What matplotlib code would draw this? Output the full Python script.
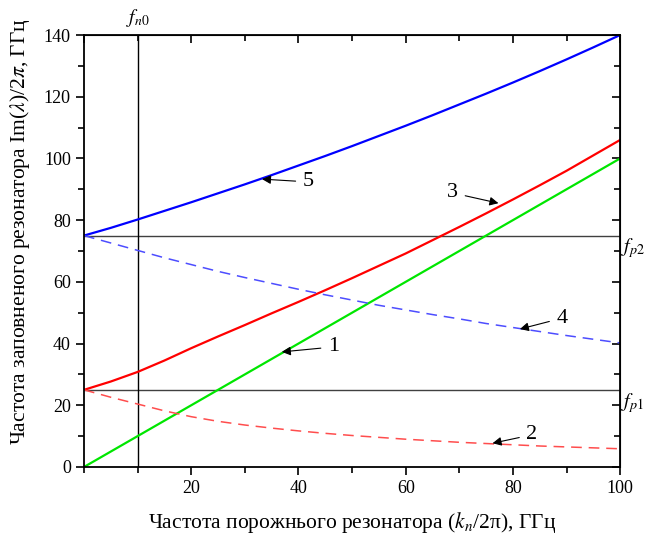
import matplotlib
matplotlib.use('Agg')
import matplotlib.pyplot as plt
from matplotlib.ticker import MultipleLocator

plt.rcParams['font.family'] = ['Liberation Serif', 'DejaVu Serif']
plt.rcParams['mathtext.fontset'] = 'stix'

# empty-resonator frequency, GHz
kn = [0, 5, 10, 15, 20, 25, 30, 35, 40, 45, 50, 55, 60, 65, 70, 75, 80, 85, 90, 95, 100]

# curve 1: uncoupled line
line1 = [0, 5, 10, 15, 20, 25, 30, 35, 40, 45, 50, 55, 60, 65, 70, 75, 80, 85, 90, 95, 100]
# curve 3 (red solid) and 2 (red dashed)
line3 = [25, 27.7, 30.8, 34.5, 38.5, 42.3, 46, 49.8, 53.5, 57.3, 61.2, 65.2, 69.2,
         73.5, 77.8, 82.2, 86.7, 91.3, 96, 101, 106]
line2 = [25, 22.6, 20.4, 18.2, 16.3, 14.8, 13.6, 12.6, 11.7, 10.9, 10.2, 9.6, 9.0,
         8.5, 8.0, 7.6, 7.2, 6.8, 6.5, 6.2, 5.9]
# curve 5 (blue solid) and 4 (blue dashed)
line5 = [75, 77.5, 80.2, 83, 85.8, 88.7, 91.6, 94.6, 97.7, 100.8, 104, 107.3, 110.6,
         114, 117.5, 121, 124.6, 128.3, 132.1, 136, 140]
line4 = [75, 72.6, 70.2, 67.8, 65.6, 63.4, 61.4, 59.5, 57.6, 55.8, 54.1, 52.4, 50.9,
         49.4, 48, 46.5, 45.2, 43.9, 42.6, 41.4, 40.2]

fn0 = 10
fp1 = 25
fp2 = 75

fig = plt.figure(figsize=(6.46, 5.43), dpi=100)
ax = fig.add_axes([0.130, 0.140, 0.830, 0.7955])

ax.axhline(fp1, color='#404040', lw=1.0, zorder=1)
ax.axhline(fp2, color='#404040', lw=1.0, zorder=1)
ax.axvline(fn0, color='k', lw=1.0, zorder=1)

ax.plot(kn, line1, color='#00e600', lw=1.6)
ax.plot(kn, line3, color='#ff0000', lw=1.6)
ax.plot(kn, line2, color='#ff4d4d', lw=1.1, dashes=(7, 4.5))
ax.plot(kn, line5, color='#0000ff', lw=1.6)
ax.plot(kn, line4, color='#4d4dff', lw=1.1, dashes=(7, 4.5))

ax.set_xlim(0, 100)
ax.set_ylim(0, 140)
ax.xaxis.set_major_locator(MultipleLocator(20))
ax.xaxis.set_minor_locator(MultipleLocator(10))
ax.yaxis.set_major_locator(MultipleLocator(20))
ax.yaxis.set_minor_locator(MultipleLocator(10))
ax.set_xticks([20, 40, 60, 80, 100])
ax.tick_params(which='major', direction='out', length=6, width=1.2, labelsize=13)
ax.tick_params(which='minor', direction='out', length=4, width=1.2)
for s in ax.spines.values():
    s.set_linewidth(1.3)

top = ax.secondary_xaxis('top')
top.xaxis.set_major_locator(MultipleLocator(20))
top.xaxis.set_minor_locator(MultipleLocator(10))
top.tick_params(which='major', direction='in', length=6, width=1.2, labeltop=False)
top.tick_params(which='minor', direction='in', length=4, width=1.2)
right = ax.secondary_yaxis('right')
right.yaxis.set_major_locator(MultipleLocator(20))
right.yaxis.set_minor_locator(MultipleLocator(10))
right.tick_params(which='major', direction='in', length=6, width=1.2, labelright=False)
right.tick_params(which='minor', direction='in', length=4, width=1.2)

ax.set_xlabel('Частота порожнього резонатора ($k_n$/2π), ГГц', fontsize=15.5, labelpad=9)
ax.set_ylabel(r'Частота заповненого резонатора Im($\lambda$)/2$\pi$, ГГц', fontsize=15.5)
ax.yaxis.set_label_coords(-0.097, 0.545)

ax.text(fn0, 142, r'$f_{n0}$', ha='center', va='bottom', fontsize=14)
ax.text(100.2, fp2 - 0.3, r'$f_{p2}$', ha='left', va='top', fontsize=14.5)
ax.text(100.2, fp1 - 0.3, r'$f_{p1}$', ha='left', va='top', fontsize=14.5)

arr = dict(arrowstyle='-|>', color='k', lw=0.8, mutation_scale=13, shrinkA=3, shrinkB=0)
notes = [('1', 36.9, 37.3, 46.5, 38.9),
         ('2', 76.2, 7.7, 83.5, 10.4),
         ('3', 77.3, 85.5, 68.8, 88.8),
         ('4', 81.3, 44.7, 89.1, 48.2),
         ('5', 33.2, 93.3, 41.8, 92.4)]
for lab, xt, yt, xs, ys in notes:
    ax.annotate(lab, xy=(xt, yt), xytext=(xs, ys), ha='center', va='center',
                fontsize=16, arrowprops=arr)

fig.savefig('out.png', dpi=100)
